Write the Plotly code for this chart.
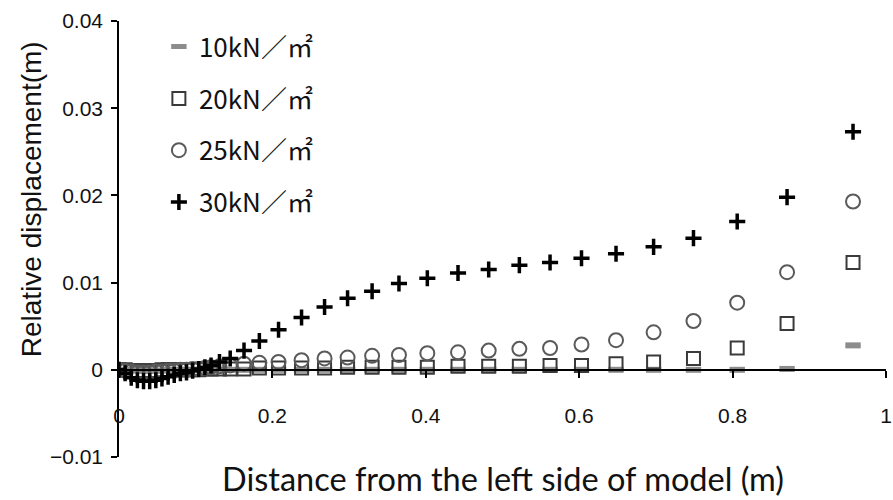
import plotly.graph_objects as go

# Node positions along the model (m)
distance = [
    0.000, 0.008, 0.016, 0.024, 0.032, 0.040, 0.048, 0.056, 0.064, 0.072,
    0.080, 0.088, 0.096, 0.104, 0.112, 0.120, 0.131,
    0.145, 0.163, 0.183, 0.208, 0.238, 0.268, 0.298, 0.330, 0.365, 0.402,
    0.442, 0.482, 0.522, 0.562, 0.603, 0.648, 0.697, 0.749, 0.806, 0.871, 0.957,
]

# Relative displacement (m) for each load level
disp_10 = [
    0.0, 0.0, 0.0, -0.0001, -0.0001, -0.0001, -0.0001, -0.0001, 0.0, 0.0,
    0.0, 0.0, 0.0, 0.0, 0.0, 0.0, 0.0,
    0.0, 0.0, 0.0, 0.0, 0.0, 0.0, 0.0, 0.0, 0.0, 0.0,
    0.0, 0.0, 0.0, 0.0, 0.0, 0.0, 0.0, 0.0, 0.0, 0.0001, 0.0028,
]
disp_20 = [
    0.0, 0.0, -0.0001, -0.0001, -0.0001, -0.0001, -0.0001, 0.0, 0.0, 0.0,
    0.0, 0.0, 0.0, 0.0, 0.0001, 0.0001, 0.0001,
    0.0001, 0.0001, 0.0002, 0.0002, 0.0002, 0.0002, 0.0003, 0.0003, 0.0003, 0.0003,
    0.0004, 0.0004, 0.0004, 0.0005, 0.0005, 0.0007, 0.0009, 0.0013, 0.0025, 0.0053, 0.0123,
]
disp_25 = [
    0.0, -0.0001, -0.0002, -0.0003, -0.0003, -0.0003, -0.0002, -0.0002, -0.0001, -0.0001,
    0.0, 0.0, 0.0001, 0.0001, 0.0002, 0.0003, 0.0004,
    0.0005, 0.0007, 0.0008, 0.0009, 0.0011, 0.0013, 0.0014, 0.0016, 0.0017, 0.0019,
    0.0020, 0.0022, 0.0024, 0.0025, 0.0029, 0.0034, 0.0043, 0.0056, 0.0077, 0.0112, 0.0193,
]
disp_30 = [
    0.0, -0.0004, -0.0009, -0.0012, -0.0013, -0.0013, -0.0012, -0.0010, -0.0008, -0.0006,
    -0.0004, -0.0003, -0.0001, 0.0001, 0.0003, 0.0005, 0.0009,
    0.0013, 0.0022, 0.0033, 0.0046, 0.0060, 0.0072, 0.0082, 0.0090, 0.0099, 0.0105,
    0.0111, 0.0115, 0.0120, 0.0123, 0.0128, 0.0133, 0.0141, 0.0151, 0.0170, 0.0198, 0.0273,
]

series_names = ["10kN／㎡", "20kN／㎡", "25kN／㎡", "30kN／㎡"]
x_ticks = [0, 0.2, 0.4, 0.6, 0.8, 1]
x_tick_text = ["0", "0.2", "0.4", "0.6", "0.8", "1"]
y_ticks = [-0.01, 0, 0.01, 0.02, 0.03, 0.04]
y_tick_text = ["−0.01", "0", "0.01", "0.02", "0.03", "0.04"]

styles = [
    dict(symbol="line-ew", size=11, color="#8c8c8c",
         line=dict(width=6, color="#8c8c8c")),
    dict(symbol="square-open", size=13, color="#3a3a3a",
         line=dict(width=2, color="#3a3a3a")),
    dict(symbol="circle-open", size=14, color="#5a5a5a",
         line=dict(width=2, color="#5a5a5a")),
    dict(symbol="cross-thin", size=11.5, color="#000000",
         line=dict(width=3.5, color="#000000")),
]

fig = go.Figure()
for i, (name, ys) in enumerate(zip(series_names, [disp_10, disp_20, disp_25, disp_30])):
    fig.add_trace(go.Scatter(
        x=distance, y=ys, mode="markers", name=name,
        legendgroup=f"g{i}", marker=styles[i],
    ))

tick_font = dict(family="Liberation Sans, Arial, sans-serif", size=21, color="#111")

fig.update_layout(
    width=893, height=500,
    margin=dict(l=119, r=7, t=21, b=43, autoexpand=False),
    paper_bgcolor="white", plot_bgcolor="white",
    showlegend=True,
    legend=dict(
        x=0.052, y=0.995, xanchor="left", yanchor="top",
        font=dict(family="Noto Sans CJK JP, sans-serif", size=26, color="#111"),
        tracegroupgap=15, bgcolor="rgba(0,0,0,0)", itemwidth=30,
    ),
    xaxis=dict(
        range=[0, 1], anchor="free", position=0.2, automargin=False,
        showline=True, linecolor="#000", linewidth=1.5,
        ticks="outside", ticklen=7, tickcolor="#000", tickwidth=1.5,
        tickvals=x_ticks, ticktext=x_tick_text, tickfont=tick_font,
        ticklabelstandoff=20, ticklabeloverflow="allow",
        showgrid=False, zeroline=False,
    ),
    yaxis=dict(
        range=[-0.01, 0.04], automargin=False,
        showline=True, linecolor="#000", linewidth=1.5,
        ticks="outside", ticklen=6, tickcolor="#000", tickwidth=1.5,
        tickvals=y_ticks, ticktext=y_tick_text, tickfont=tick_font,
        ticklabelstandoff=4, ticklabeloverflow="allow",
        showgrid=False, zeroline=False,
    ),
    annotations=[
        dict(text="Distance from the left side of model (m)",
             xref="paper", yref="paper", x=0.5, y=-0.05,
             xanchor="center", yanchor="middle", showarrow=False,
             font=dict(family="Lato, sans-serif", size=32.5, color="#111")),
        dict(text="Relative displacement(m)",
             xref="paper", yref="paper", x=-0.113, y=0.592, textangle=-90,
             xanchor="center", yanchor="middle", showarrow=False,
             font=dict(family="Liberation Sans, Arial, sans-serif", size=28, color="#111")),
    ],
)

fig.write_html("out.html")
